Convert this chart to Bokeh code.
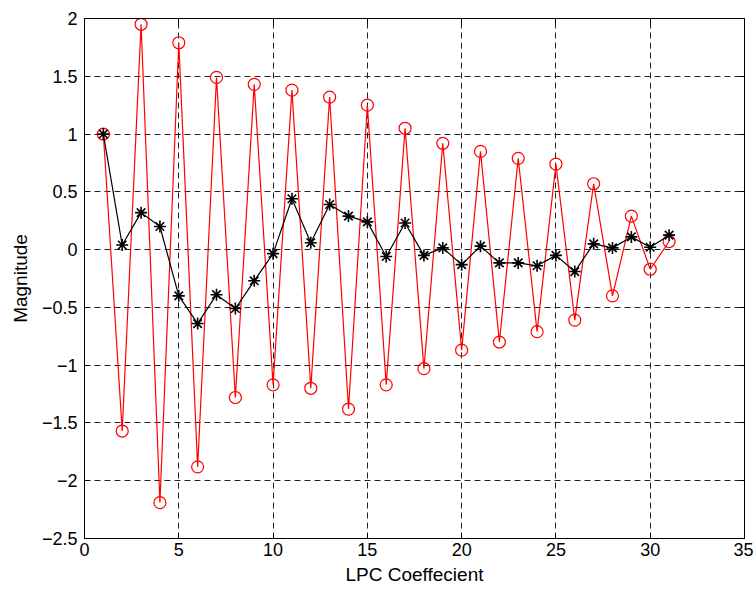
from bokeh.plotting import figure
from bokeh.models import Range1d, LinearAxis, FixedTicker
from bokeh.embed import file_html
from bokeh.resources import INLINE

coef_index = list(range(1, 32))
red_series = [1.0, -1.57, 1.95, -2.19, 1.79, -1.88, 1.49, -1.28, 1.43, -1.17,
              1.38, -1.20, 1.32, -1.38, 1.25, -1.17, 1.05, -1.03, 0.92, -0.87,
              0.85, -0.80, 0.79, -0.71, 0.74, -0.61, 0.57, -0.40, 0.29, -0.17, 0.07]
black_series = [1.0, 0.04, 0.32, 0.20, -0.40, -0.64, -0.39, -0.51, -0.27, -0.035,
                0.44, 0.06, 0.39, 0.29, 0.24, -0.06, 0.23, -0.05, 0.015, -0.13,
                0.03, -0.115, -0.115, -0.14, -0.05, -0.19, 0.05, 0.015, 0.11, 0.02, 0.125]
x_ticks = [0, 5, 10, 15, 20, 25, 30, 35]
y_ticks = [-2.5, -2, -1.5, -1, -0.5, 0, 0.5, 1, 1.5, 2]

FONT = "Liberation Sans"

p = figure(width=753, height=590, output_backend="svg", toolbar_location=None,
           x_range=Range1d(0, 35), y_range=Range1d(-2.5, 2),
           min_border_left=84, min_border_top=18, min_border_right=9, min_border_bottom=52)
p.outline_line_color = "black"
p.outline_line_width = 1

for ax, ticks in ((p.xaxis[0], x_ticks), (p.yaxis[0], y_ticks)):
    ax.ticker = FixedTicker(ticks=ticks)
    ax.major_tick_in = 5
    ax.major_tick_out = 0
    ax.minor_tick_in = 0
    ax.minor_tick_out = 0
    ax.axis_line_color = "black"
    ax.major_tick_line_color = "black"
    ax.major_label_text_font = FONT
    ax.major_label_text_font_size = "18px"
    ax.major_label_text_color = "black"
    ax.axis_label_text_font = FONT
    ax.axis_label_text_font_size = "19px"
    ax.axis_label_text_font_style = "normal"
    ax.axis_label_text_color = "black"

p.xaxis.axis_label = "LPC Coeffecient"
p.yaxis.axis_label = "Magnitude"
p.xaxis.major_label_standoff = 4
p.yaxis.major_label_standoff = 7
p.xaxis.axis_label_standoff = 5
p.yaxis.axis_label_standoff = 8

# box ticks on top and right (MATLAB style), no labels drawn
top_ax = LinearAxis(ticker=FixedTicker(ticks=x_ticks), major_tick_in=5, major_tick_out=0,
                    minor_tick_in=0, minor_tick_out=0, major_label_text_font_size="1px",
                    major_label_text_color=None, major_label_standoff=0,
                    axis_line_color="black")
right_ax = LinearAxis(ticker=FixedTicker(ticks=y_ticks), major_tick_in=5, major_tick_out=0,
                      minor_tick_in=0, minor_tick_out=0, major_label_text_font_size="1px",
                      major_label_text_color=None, major_label_standoff=0,
                      axis_line_color="black")
p.add_layout(top_ax, "above")
p.add_layout(right_ax, "right")

p.xgrid.ticker = FixedTicker(ticks=x_ticks)
p.ygrid.ticker = FixedTicker(ticks=y_ticks)
for g in (p.xgrid[0], p.ygrid[0]):
    g.grid_line_color = "#222222"
    g.grid_line_dash = "6 4"
    g.grid_line_width = 1
    g.grid_line_alpha = 1.0

p.line(coef_index, red_series, line_color="red", line_width=1.2)
p.scatter(coef_index, red_series, marker="circle", size=12, fill_color=None,
          line_color="red", line_width=1.2)
p.line(coef_index, black_series, line_color="black", line_width=1.2)
p.scatter(coef_index, black_series, marker="asterisk", size=12,
          line_color="black", line_width=1.6)

open("out.html", "w").write(file_html(p, INLINE))
